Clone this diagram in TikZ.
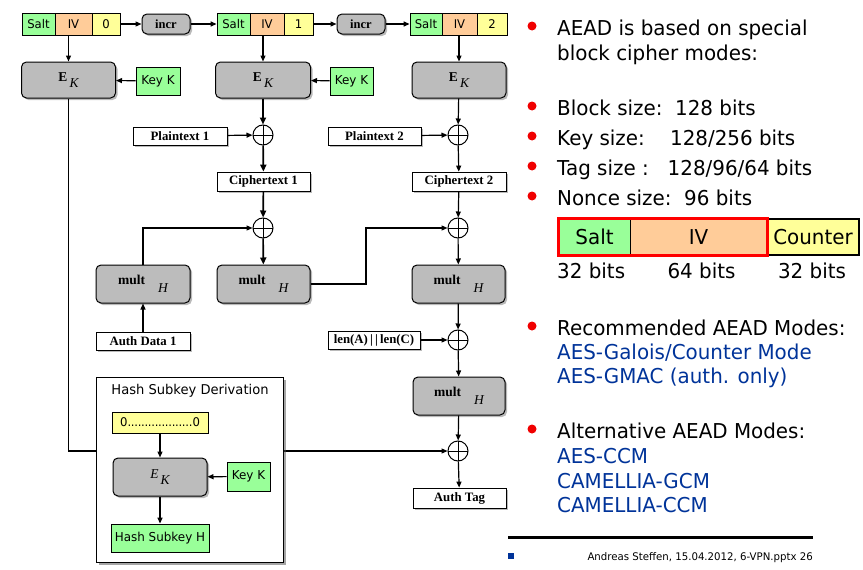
\documentclass[tikz,border=0pt]{standalone}
\usepackage{fontspec}
\setmainfont{DejaVu Sans}[FakeStretch=0.97]
\newfontfamily\tms{Liberation Serif}
\usetikzlibrary{arrows.meta,shadows,calc}
\definecolor{cgreen}{RGB}{153,255,153}
\definecolor{cpeach}{RGB}{255,204,153}
\definecolor{cyell}{RGB}{255,255,153}
\definecolor{cgray}{RGB}{188,188,188}
\definecolor{cblue}{RGB}{0,51,153}
\definecolor{cred}{RGB}{240,0,0}
\newcommand\rtxt{\fontsize{20.5}{24}\selectfont}
\newcommand\ek[1]{{\tms#1E}\raisebox{-6pt}{\,\tms\itshape K}}
\newcommand\mlt{{\tms\bfseries mult}\hspace{13pt}\raisebox{-8pt}{\tms\itshape H}}
\tikzset{
  box/.style={draw=black, line width=0.8pt, inner sep=0pt, anchor=center},
  cell/.style={box, font=\fontsize{12}{14}\selectfont},
  gbox/.style={box, fill=cgray, rounded corners=5pt, line width=1pt,
    drop shadow={shadow xshift=2pt, shadow yshift=-2pt, opacity=0.45, fill=black!60}},
  wbox/.style={box, fill=white, font=\tms\bfseries\fontsize{12.8}{14}\selectfont,
    drop shadow={shadow xshift=2pt, shadow yshift=-2pt, opacity=0.45, fill=black!60}},
  kbox/.style={box, fill=cgreen, font=\fontsize{12.3}{14}\selectfont},
  xor/.style={circle, draw, line width=1pt, minimum size=20pt, inner sep=0pt, fill=white,
    path picture={\draw[line width=1pt] (path picture bounding box.north) -- (path picture bounding box.south)
      (path picture bounding box.west) -- (path picture bounding box.east);}},
  ar/.style={line width=1.2pt, -{Triangle[length=6pt,width=5pt]}},
  thk/.style={line width=1.7pt, -{Triangle[length=7pt,width=6pt]}},
  rt/.style={anchor=base west, inner sep=0pt, font=\rtxt},
  rtb/.style={rt, text=cblue},
  bul/.style={circle, fill=cred, minimum size=9pt, inner sep=0pt},
}
\begin{document}
\begin{tikzpicture}[x=1pt,y=-1pt]
\useasboundingbox (0,0) rectangle (863,570);
% ---- top counter blocks
\node[cell, fill=cgreen, minimum width=33, minimum height=22] (s0) at (38.5,24) {Salt};
\node[cell, fill=cpeach, minimum width=37, minimum height=22] (iv0) at (73.5,24) {IV};
\node[cell, fill=cyell, minimum width=28, minimum height=22] (n0) at (106,24) {0};
\node[gbox, font=\tms\bfseries\fontsize{12.5}{14}\selectfont, minimum width=48, minimum height=20] (inc1) at (166,24) {incr};
\node[cell, fill=cgreen, minimum width=33, minimum height=22] (s1) at (233.5,24) {Salt};
\node[cell, fill=cpeach, minimum width=34, minimum height=22] (iv1) at (267,24) {IV};
\node[cell, fill=cyell, minimum width=29, minimum height=22] (n1) at (298.5,24) {1};
\node[gbox, font=\tms\bfseries\fontsize{12.5}{14}\selectfont, minimum width=48, minimum height=20] (inc2) at (361,24) {incr};
\node[cell, fill=cgreen, minimum width=32, minimum height=22] (s2) at (426,24) {Salt};
\node[cell, fill=cpeach, minimum width=35, minimum height=22] (iv2) at (459.5,24) {IV};
\node[cell, fill=cyell, minimum width=30, minimum height=22] (n2) at (492,24) {2};
\draw[ar] (n0) -- (inc1);
\draw[ar] (inc1) -- (s1);
\draw[ar] (n1) -- (inc2);
\draw[ar] (inc2) -- (s2);
% ---- encryption boxes
\node[gbox, minimum width=94, minimum height=36, font=\fontsize{13.5}{14}\selectfont] (ek0) at (68.5,80) {\ek{\bfseries}};
\node[gbox, minimum width=95, minimum height=36, font=\fontsize{13.5}{14}\selectfont] (ek1) at (263,80) {\ek{\bfseries}};
\node[gbox, minimum width=94, minimum height=36, font=\fontsize{13.5}{14}\selectfont] (ek2) at (459,80) {\ek{\bfseries}};
\node[kbox, minimum width=44, minimum height=28] (k0) at (158,81) {Key K};
\node[kbox, minimum width=43, minimum height=28] (k1) at (351.5,81) {Key K};
\draw[ar] (iv0.south -| ek0.north) -- (ek0.north);
\draw[ar] (iv1.south -| ek1.north) -- (ek1.north);
\draw[ar] (iv2.south -| ek2.north) -- (ek2.north);
\draw[ar] (k0) -- (ek0);
\draw[ar] (k1) -- (ek1);
% ---- xors and texts
\node[xor] (x1) at (263,135) {};
\node[xor] (x2) at (458,135) {};
\node[xor] (x3) at (263,228) {};
\node[xor] (x4) at (458,228) {};
\node[xor] (x5) at (458,340) {};
\node[xor] (x6) at (458,451) {};
\node[wbox, minimum width=94, minimum height=18] (p1) at (180,136) {Plaintext 1};
\node[wbox, minimum width=93, minimum height=18] (p2) at (374.5,136) {Plaintext 2};
\node[wbox, minimum width=93, minimum height=19] (c1) at (263.5,181.5) {Ciphertext 1};
\node[wbox, minimum width=94, minimum height=19] (c2) at (459,181.5) {Ciphertext 2};
\node[gbox, minimum width=94, minimum height=38, font=\fontsize{13.5}{14}\selectfont] (m1) at (143,284) {\mlt};
\node[gbox, minimum width=93, minimum height=38, font=\fontsize{13.5}{14}\selectfont] (m2) at (263.5,284) {\mlt};
\node[gbox, minimum width=93, minimum height=38, font=\fontsize{13.5}{14}\selectfont] (m3) at (458.5,284) {\mlt};
\node[wbox, minimum width=94, minimum height=18] (ad) at (143,341) {Auth Data 1};
\node[wbox, minimum width=92, minimum height=18] (len) at (374,340) {len(A)\,|\,|\,len(C)};
\node[gbox, minimum width=92, minimum height=38, font=\fontsize{13.5}{14}\selectfont] (m4) at (459,396) {\mlt};
\node[wbox, minimum width=93, minimum height=20] (tag) at (459.5,498) {Auth Tag};
\coordinate (bend) at (366,228);
\draw[thk] (ek1) -- (x1);
\draw[thk] (x1) -- (c1);
\draw[thk] (c1) -- (x3);
\draw[thk] (x3) -- (m2);
\draw[ar] (ek2) -- (x2);
\draw[ar] (x2) -- (c2);
\draw[ar] (c2) -- (x4);
\draw[ar] (x4) -- (m3);
\draw[ar] (m3) -- (x5);
\draw[ar] (x5) -- (m4);
\draw[ar] (m4) -- (x6);
\draw[ar] (x6) -- (tag);
\draw[ar] (p1) -- (x1);
\draw[ar] (p2) -- (x2);
\draw[ar] (len) -- (x5);
\draw[ar] (ad) -- (m1);
\draw[ar] (m1.north) |- (x3.west);
\draw[ar] (m2.east) -| (bend) -- (x4.west);
\draw[ar] (ek0.south) |- (x6.west);
% ---- hash subkey derivation
\node[box, fill=white, line width=1pt, minimum width=187, minimum height=185,
  drop shadow={shadow xshift=3pt, shadow yshift=-3pt, opacity=0.5, fill=black!70}] (hb) at (189.5,469.5) {};
\node[inner sep=0pt, font=\fontsize{13.5}{15}\selectfont] (ht) at (190,391) {Hash Subkey Derivation};
\node[cell, fill=cyell, minimum width=96, minimum height=21] (z) at (160,422.5) {\makebox[80pt]{0\cleaders\hbox to 3.4pt{\hss.\hss}\hfill0}};
\node[gbox, minimum width=94, minimum height=38, font=\fontsize{13.5}{14}\selectfont] (ekh) at (160,477) {\ek{\itshape}};
\node[kbox, minimum width=43, minimum height=29] (kh) at (248.5,476.5) {Key K};
\node[kbox, minimum width=98, minimum height=28] (hh) at (160,538) {Hash Subkey H};
\draw[ar] (z) -- (ekh);
\draw[ar] (ekh) -- (hh);
\draw[ar] (kh) -- (ekh);
% ---- right column
\node[bul] (b1) at (532,26) {};
\node[rt] (t1) at (557,35) {AEAD is based on special};
\node[rt] (t1b) at (557,60) {block cipher modes:};
\node[bul] (b2) at (532,106) {};
\node[rt] (t2) at (557,115) {Block size:\ \ 128 bits};
\node[bul] (b3) at (532,136) {};
\node[rt] (t3) at (557,145) {Key size:\ \ \ \ 128/256 bits};
\node[bul] (b4) at (532,166) {};
\node[rt] (t4) at (557,175) {Tag size :\ \ \ 128/96/64 bits};
\node[bul] (b5) at (532,196) {};
\node[rt] (t5) at (557,205) {Nonce size:\ \ 96 bits};
\node[box, fill=cgreen, minimum width=71, minimum height=36, font=\rtxt] (ns) at (594.5,237) {Salt};
\node[box, fill=cpeach, minimum width=137, minimum height=36, font=\rtxt] (ni) at (698.5,237) {IV};
\node[box, fill=cyell, line width=1.2pt, minimum width=92, minimum height=36, font=\rtxt] (nc) at (813,237) {Counter};
\draw[red, line width=3pt] (ns.north west) rectangle (ni.south east);
\node[rt] (l1) at (557,278) {32 bits};
\node[anchor=base, inner sep=0pt, font=\rtxt] (l2) at (701.5,278) {64 bits};
\node[anchor=base, inner sep=0pt, font=\rtxt] (l3) at (812,278) {32 bits};
\node[bul] (b6) at (532,326) {};
\node[rt] (t6) at (557,335) {Recommended AEAD Modes:};
\node[rtb] (t6a) at (557,359) {AES-Galois/Counter Mode};
\node[rtb] (t6b) at (557,383) {AES-GMAC (auth. only)};
\node[bul] (b7) at (532,429) {};
\node[rt] (t7) at (557,438) {Alternative AEAD Modes:};
\node[rtb] (t7a) at (557,463) {AES-CCM};
\node[rtb] (t7b) at (557,488) {CAMELLIA-GCM};
\node[rtb] (t7c) at (557,512) {CAMELLIA-CCM};
\coordinate (fl) at (508,537);
\coordinate (fr) at (813,537);
\draw[line width=3pt] (fl) -- (fr);
\fill[cblue] (508,553) rectangle (514,559);
\node[anchor=base east, inner sep=0pt, font=\fontsize{10.5}{12}\selectfont] (foot) at (813,560) {Andreas Steffen, 15.04.2012, 6-VPN.pptx 26};
\end{tikzpicture}
\end{document}
